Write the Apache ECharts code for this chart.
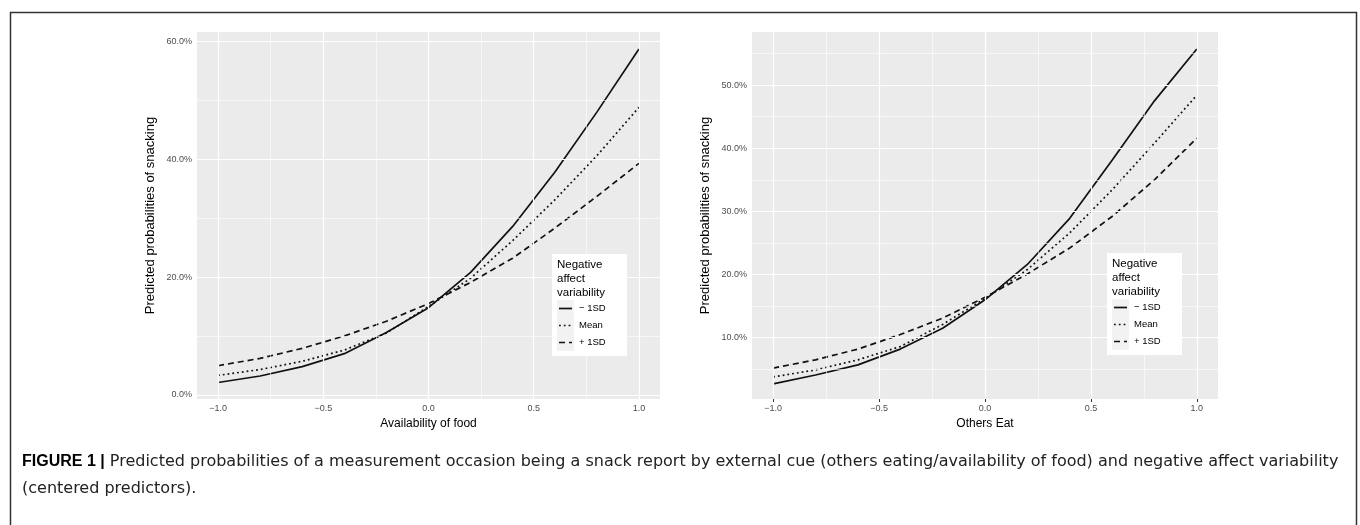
<!DOCTYPE html>
<html>
<head>
<meta charset="utf-8">
<script src="https://cdn.jsdelivr.net/npm/echarts@6/dist/echarts.min.js"></script>
<style>html,body{margin:0;padding:0;background:#fff;}#c{width:1360px;height:525px;}</style>
</head>
<body>
<div id="c"></div>
<script>
// ---- data (percent) ----
const xValues = [-1.0, -0.8, -0.6, -0.4, -0.2, 0.0, 0.2, 0.4, 0.6, 0.8, 1.0];
const seriesNames = ['− 1SD', 'Mean', '+ 1SD'];
// Left panel: Availability of food
const foodMinus1SD = [2.1, 3.2, 4.8, 7.0, 10.6, 14.8, 20.8, 28.6, 37.8, 48.0, 58.7];
const foodMean     = [3.3, 4.3, 5.7, 7.6, 10.5, 15.0, 19.8, 26.2, 33.1, 40.6, 48.8];
const foodPlus1SD  = [4.95, 6.2, 7.9, 10.0, 12.5, 15.5, 19.1, 23.2, 28.3, 33.7, 39.3];
// Right panel: Others Eat
const othersMinus1SD = [2.7, 4.1, 5.7, 8.2, 11.5, 16.0, 21.6, 28.9, 38.1, 47.5, 55.7];
const othersMean     = [3.8, 4.9, 6.5, 8.6, 12.1, 16.2, 20.8, 26.6, 33.4, 40.8, 48.4];
const othersPlus1SD  = [5.2, 6.5, 8.2, 10.5, 13.1, 16.4, 20.1, 24.2, 29.2, 35.0, 41.6];
const xTicks = [-1.0, -0.5, 0.0, 0.5, 1.0];
const xMinor = [-0.75, -0.25, 0.25, 0.75];
const leftYTicks = [0, 20, 40, 60];
const leftYMinor = [10, 30, 50];
const rightYTicks = [10, 20, 30, 40, 50];
const rightYMinor = [5, 15, 25, 35, 45, 55];
const xTitles = ['Availability of food', 'Others Eat'];
const yTitle = 'Predicted probabilities of snacking';
const legendTitle = ['Negative', 'affect', 'variability'];
const captionBold = 'FIGURE 1 |';
const captionLine1 = ' Predicted probabilities of a measurement occasion being a snack report by external cue (others eating/availability of food) and negative affect variability';
const captionLine2 = '(centered predictors).';

// ---- build ----
const chart = echarts.init(document.getElementById('c'), null, {renderer: 'canvas'});
const FONT = 'Liberation Sans, Arial, sans-serif';
const CAPFONT = 'DejaVu Sans, sans-serif';
const dashes = [null, [1.8, 3], [6, 4]];
const lineTypes = ['solid', [1.8, 3], [6, 4]];

const grids = [
  {left: 197, top: 32, width: 463, height: 367},
  {left: 752, top: 32, width: 466, height: 367}
];
const yRanges = [[-0.7, 61.6], [0.3, 58.4]];
const yTickSets = [leftYTicks, rightYTicks];
const yMinorSets = [leftYMinor, rightYMinor];
const panels = [[foodMinus1SD, foodMean, foodPlus1SD], [othersMinus1SD, othersMean, othersPlus1SD]];

const fmtX = v => (v < 0 ? '−' : '') + Math.abs(v).toFixed(1);

const option = {
  animation: false,
  grid: grids.map(g => Object.assign({show: true, backgroundColor: '#ebebeb', borderWidth: 0}, g)),
  xAxis: [0, 1].map(i => ({
    type: 'value', gridIndex: i, min: -1.1, max: 1.1,
    name: xTitles[i], nameLocation: 'middle', nameGap: 19,
    nameTextStyle: {fontFamily: FONT, fontSize: 12, color: '#000'},
    axisLine: {show: false},
    axisTick: {show: true, customValues: xTicks, length: 3, lineStyle: {color: '#333', width: 1}},
    axisLabel: {show: true, customValues: xTicks, formatter: fmtX, margin: 5, fontFamily: FONT, fontSize: 9, color: '#4d4d4d'},
    splitLine: {show: false}
  })),
  yAxis: [0, 1].map(i => ({
    type: 'value', gridIndex: i, min: yRanges[i][0], max: yRanges[i][1],
    name: yTitle, nameLocation: 'middle', nameGap: 40, nameRotate: 90,
    nameTextStyle: {fontFamily: FONT, fontSize: 13, color: '#000'},
    axisLine: {show: false},
    axisTick: {show: true, customValues: yTickSets[i], length: 3, lineStyle: {color: '#333', width: 1}},
    axisLabel: {show: true, customValues: yTickSets[i], formatter: v => v.toFixed(1) + '%', margin: 5, fontFamily: FONT, fontSize: 9, color: '#4d4d4d'},
    splitLine: {show: false}
  })),
  series: []
};

[0, 1].forEach(i => {
  const mk = [];
  yMinorSets[i].forEach(v => mk.push({yAxis: v, lineStyle: {width: 0.6}}));
  xMinor.forEach(v => mk.push({xAxis: v, lineStyle: {width: 0.6}}));
  yTickSets[i].forEach(v => mk.push({yAxis: v, lineStyle: {width: 1.2}}));
  xTicks.forEach(v => mk.push({xAxis: v, lineStyle: {width: 1.2}}));
  option.series.push({
    type: 'line', xAxisIndex: i, yAxisIndex: i, data: [], z: 1, silent: true,
    markLine: {silent: true, symbol: ['none', 'none'], label: {show: false},
      lineStyle: {color: '#ffffff', type: 'solid'}, data: mk, animation: false}
  });
  panels[i].forEach((vals, k) => {
    option.series.push({
      name: seriesNames[k], type: 'line', xAxisIndex: i, yAxisIndex: i, z: 3,
      symbol: 'none', smooth: false,
      lineStyle: {color: '#111', width: 1.7, type: lineTypes[k]},
      data: xValues.map((x, j) => [x, vals[j]])
    });
  });
});

// legend boxes (graphic)
const legendPos = [[552, 254], [1107, 253]];
const graphics = [];
legendPos.forEach(([lx, ly]) => {
  graphics.push({type: 'rect', left: lx, top: ly, shape: {width: 75, height: 102}, style: {fill: '#fff'}, z: 10});
  graphics.push({type: 'text', left: lx + 5, top: ly + 4, z: 11,
    style: {text: legendTitle.join('\n'), fontFamily: FONT, fontSize: 11.5, lineHeight: 14, fill: '#000'}});
  seriesNames.forEach((nm, k) => {
    const ky = ly + 46 + k * 17;
    graphics.push({type: 'rect', left: lx + 5, top: ky, shape: {width: 17, height: 17}, style: {fill: '#f2f2f2'}, z: 11});
    graphics.push({type: 'line', z: 12, shape: {x1: lx + 7, y1: ky + 8.5, x2: lx + 20, y2: ky + 8.5},
      style: {stroke: '#111', lineWidth: 1.7, lineDash: dashes[k]}});
    graphics.push({type: 'text', left: lx + 27, top: ky + 3.5, z: 12,
      style: {text: nm, fontFamily: FONT, fontSize: 9.5, fill: '#000'}});
  });
});
// figure border
graphics.push({type: 'rect', left: 8, top: 10, shape: {width: 1346, height: 530}, style: {fill: 'none', stroke: '#333', lineWidth: 1.5}, z: 0});
// caption
graphics.push({type: 'text', left: 22, top: 454, z: 5, style: {
  text: '{b|' + captionBold + '}{n|' + captionLine1 + '}\n{n|' + captionLine2 + '}',
  rich: {
    b: {fontFamily: FONT, fontSize: 16, fontWeight: 'bold', fill: '#000', lineHeight: 27},
    n: {fontFamily: CAPFONT, fontSize: 16, fill: '#222', lineHeight: 27}
  }}});
option.graphic = graphics;

chart.setOption(option);
</script>
</body>
</html>
